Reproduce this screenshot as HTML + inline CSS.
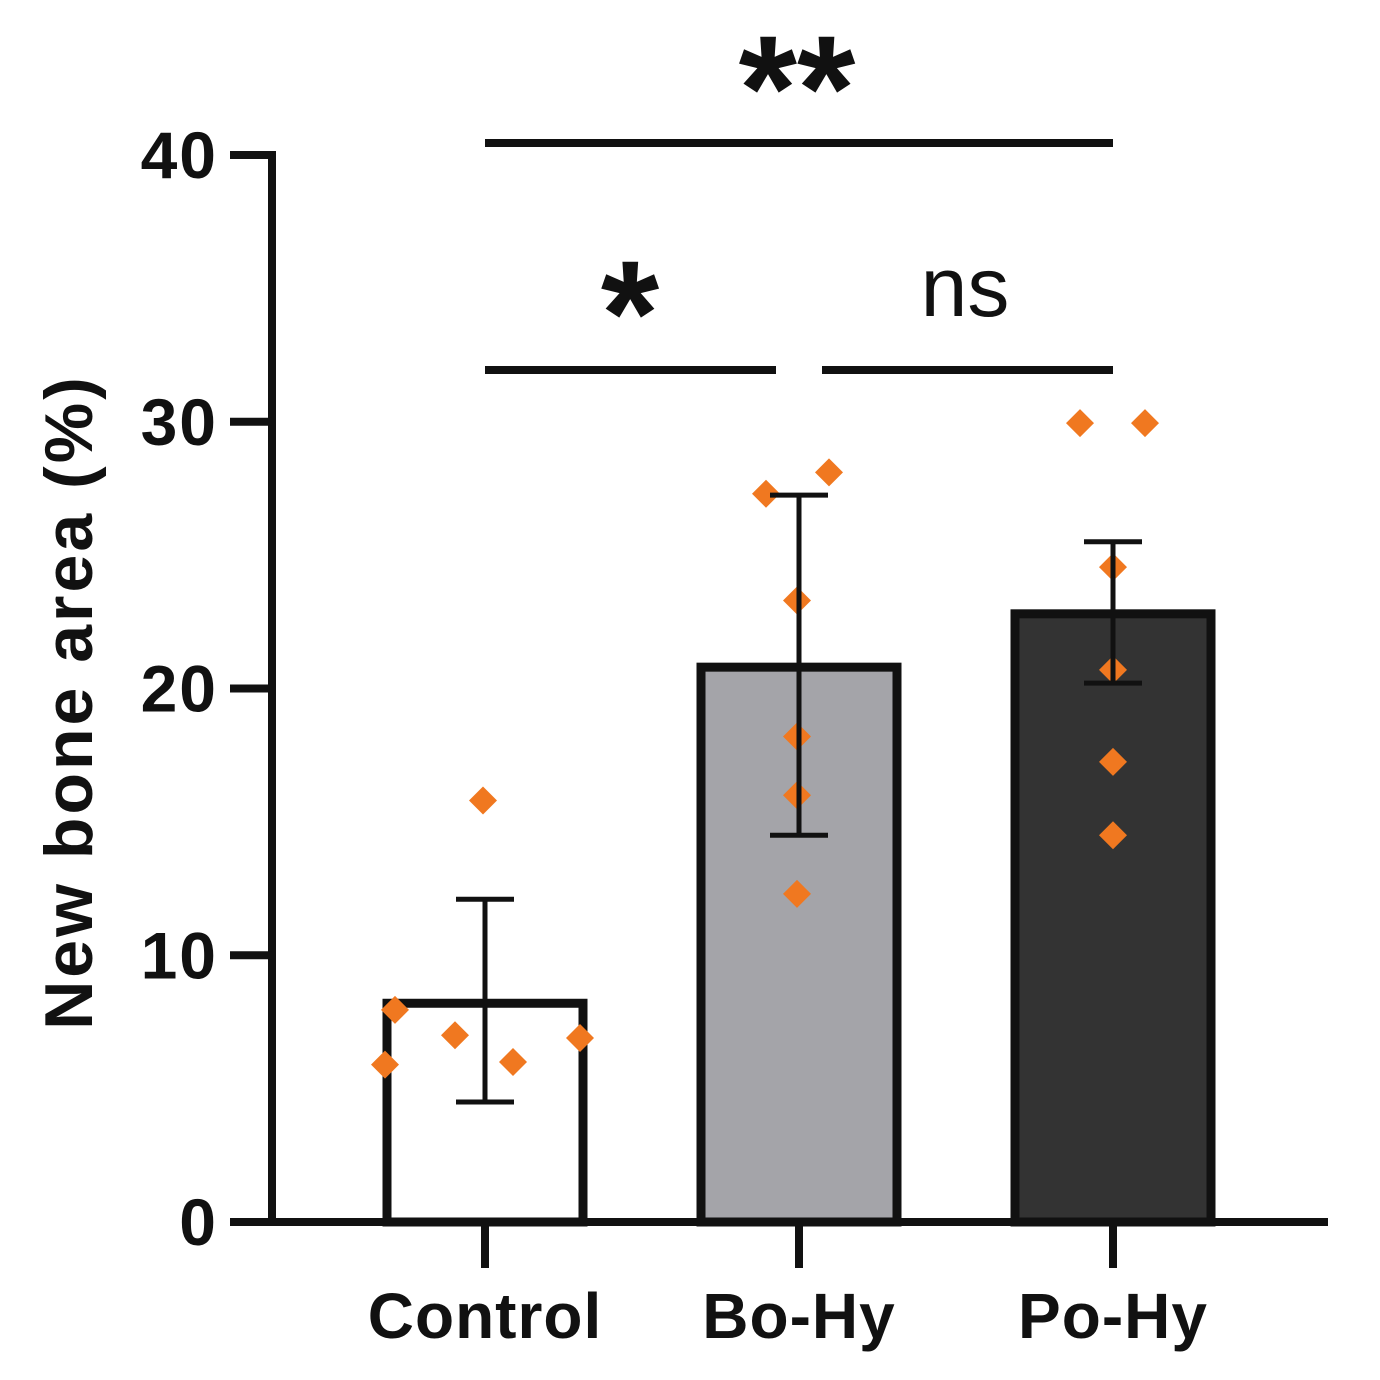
<!DOCTYPE html>
<html><head><meta charset="utf-8"><style>
html,body{margin:0;padding:0;background:#fff}
svg{display:block}
text{font-family:"Liberation Sans",Arial,sans-serif;font-weight:bold;fill:#111}
</style></head><body>
<svg id="chart" width="1380" height="1380" viewBox="0 0 1380 1380" xmlns="http://www.w3.org/2000/svg"></svg>
<script>
const categories = ["Control","Bo-Hy","Po-Hy"];
const means = [8.2, 20.8, 22.8];
const errLow = [4.5, 14.5, 20.2];
const errHigh = [12.1, 27.25, 25.5];
const barColors = ["#ffffff","#a4a4a9","#333333"];
const pointsControl = [7.95, 7.0, 6.0, 15.8, 5.9, 6.9];
const pointsBoHy = [27.3, 28.1, 23.3, 18.2, 16.0, 12.3];
const pointsPoHy = [29.95, 29.95, 24.55, 20.7, 17.25, 14.5];
const jitterControl = [-90, -30, 28, -2, -100, 95];
const jitterBoHy = [-33, 30, -2, -2, -2, -2];
const jitterPoHy = [-33, 32, 0, 0, 0, 0];
const yTicks = [0, 10, 20, 30, 40];

const NS = "http://www.w3.org/2000/svg";
const svg = document.getElementById("chart");
const y = v => 1222 - v * 26.675;
const xc = i => 485 + i * 314;
function el(tag, attrs, parent) {
  const e = document.createElementNS(NS, tag);
  for (const k in attrs) e.setAttribute(k, attrs[k]);
  (parent || svg).appendChild(e);
  return e;
}
categories.forEach((c, i) => {
  const b = el("rect", {x: xc(i) - 98, y: y(means[i]), width: 196, height: y(0) - y(means[i]), fill: barColors[i], stroke: "#111", "stroke-width": 9});
  
  
});
const allPts = [pointsControl, pointsBoHy, pointsPoHy];
const allJit = [jitterControl, jitterBoHy, jitterPoHy];
allPts.forEach((pts, i) => {
  pts.forEach((v, j) => {
    const cx = xc(i) + allJit[i][j], cy = y(v), r = 14;
    const p = el("polygon", {points: `${cx},${cy-r} ${cx+r},${cy} ${cx},${cy+r} ${cx-r},${cy}`, fill: "#f07820"});
    
    
  });
});
categories.forEach((c, i) => {
  const g = el("g", {stroke: "#111", "stroke-width": 5});
  
  
  el("line", {x1: xc(i), x2: xc(i), y1: y(errLow[i]), y2: y(errHigh[i])}, g);
  el("line", {x1: xc(i) - 29, x2: xc(i) + 29, y1: y(errLow[i]), y2: y(errLow[i])}, g);
  el("line", {x1: xc(i) - 29, x2: xc(i) + 29, y1: y(errHigh[i]), y2: y(errHigh[i])}, g);
});
const ax = el("g", {stroke: "#111", "stroke-width": 8});


el("line", {x1: 272, x2: 272, y1: 151, y2: 1226}, ax);
el("line", {x1: 230, x2: 1328, y1: 1222, y2: 1222}, ax);
yTicks.forEach(t => {
  el("line", {x1: 230, x2: 272, y1: y(t), y2: y(t)}, ax);
  const tx = el("text", {x: 218, y: y(t) + 23, "text-anchor": "end", "font-size": 66, "letter-spacing": 2});
  tx.textContent = t;
  
  
});
categories.forEach((c, i) => {
  el("line", {x1: xc(i), x2: xc(i), y1: 1222, y2: 1268}, ax);
  const tx = el("text", {x: xc(i), y: 1338, "text-anchor": "middle", "font-size": 64, "letter-spacing": 1});
  tx.textContent = c;
  
  
});
const yt = el("text", {x: 0, y: 0, "text-anchor": "middle", "font-size": 68, "letter-spacing": 3, transform: "translate(92,702) rotate(-90)"});
yt.textContent = "New bone area (%)";


const sg = el("g", {stroke: "#111", "stroke-width": 8});


el("line", {x1: 485, x2: 1113, y1: 143, y2: 143}, sg);
el("line", {x1: 485, x2: 776, y1: 370, y2: 370}, sg);
el("line", {x1: 822, x2: 1113, y1: 370, y2: 370}, sg);
[["**", 797, 140, 150, "sig-double-star"], ["*", 630, 365, 150, "sig-star"]].forEach(s => {
  const t = el("text", {x: s[1], y: s[2], "text-anchor": "middle", "font-size": s[3]});
  t.textContent = s[0];
  
  
});
const ns = el("text", {x: 965, y: 316, "text-anchor": "middle", "font-size": 84, style: "font-weight:normal"});
ns.textContent = "ns";


</script>
</body></html>
